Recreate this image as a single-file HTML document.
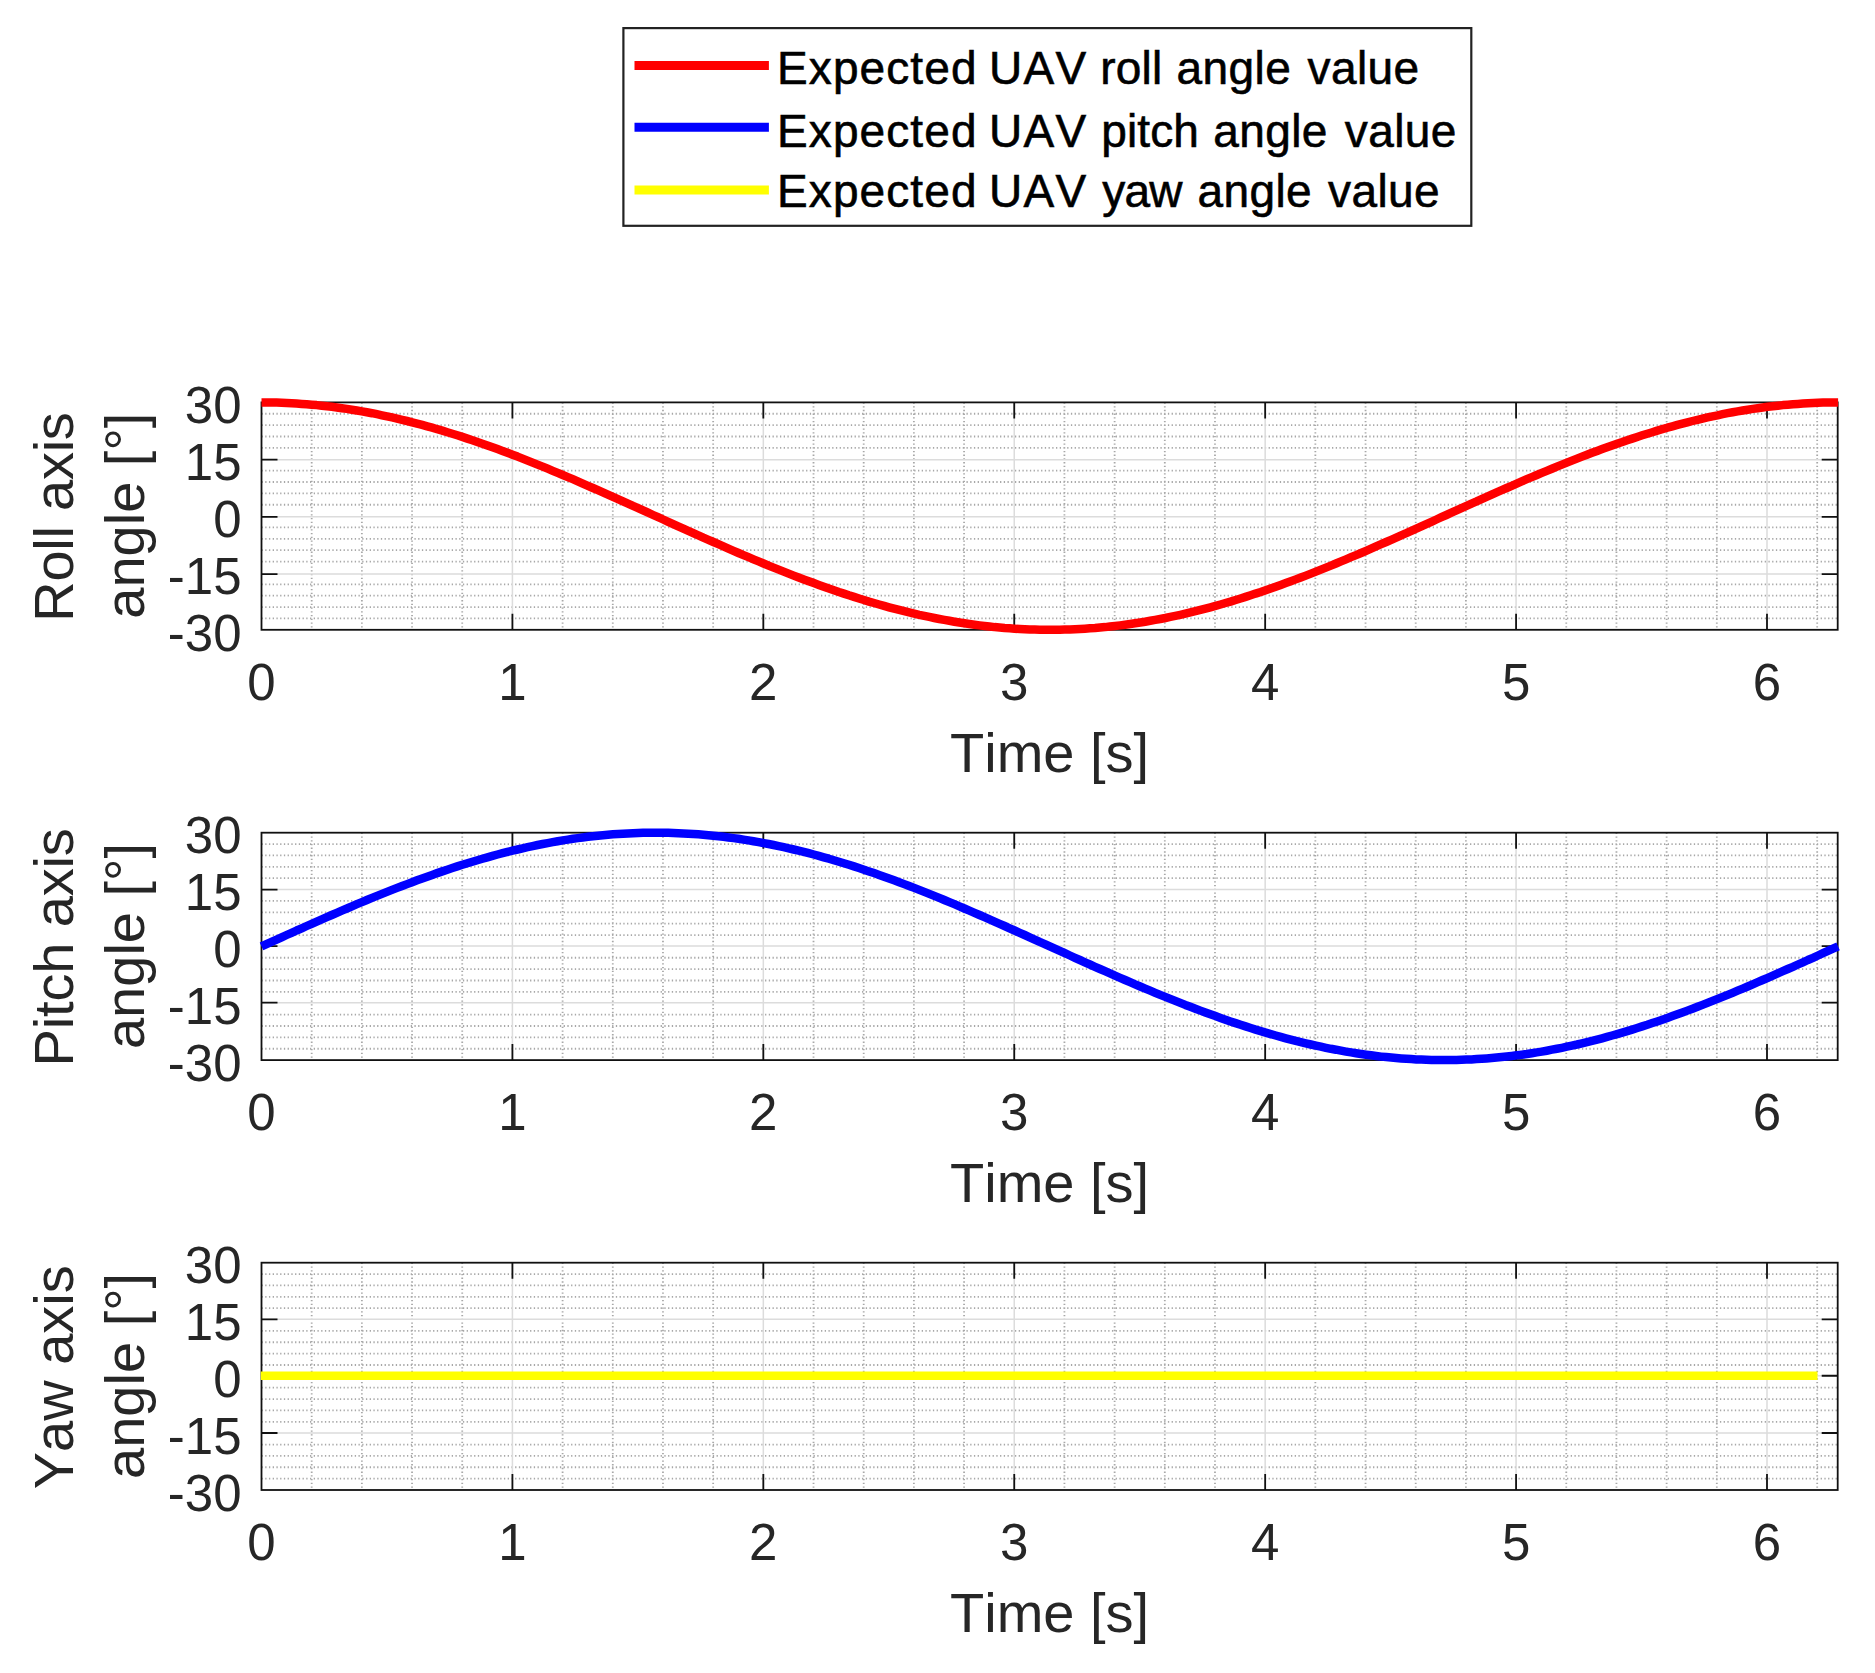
<!DOCTYPE html>
<html lang="en"><head><meta charset="utf-8"><title>Expected UAV angle values</title>
<style>html,body{margin:0;padding:0;background:#fff}body{width:1875px;height:1673px;overflow:hidden}svg{display:block}text{font-family:"Liberation Sans",sans-serif;font-kerning:none}</style>
</head><body>
<svg width="1875" height="1673" viewBox="0 0 1875 1673">
<rect width="1875" height="1673" fill="#fff"/>
<g>
<path d="M311.68 402.40V629.80M361.87 402.40V629.80M412.05 402.40V629.80M462.23 402.40V629.80M562.60 402.40V629.80M612.78 402.40V629.80M662.97 402.40V629.80M713.15 402.40V629.80M813.52 402.40V629.80M863.70 402.40V629.80M913.88 402.40V629.80M964.07 402.40V629.80M1064.43 402.40V629.80M1114.62 402.40V629.80M1164.80 402.40V629.80M1214.98 402.40V629.80M1315.35 402.40V629.80M1365.53 402.40V629.80M1415.72 402.40V629.80M1465.90 402.40V629.80M1566.27 402.40V629.80M1616.45 402.40V629.80M1666.63 402.40V629.80M1716.82 402.40V629.80M1817.18 402.40V629.80M261.50 618.43H1837.70M261.50 607.06H1837.70M261.50 595.69H1837.70M261.50 584.32H1837.70M261.50 561.58H1837.70M261.50 550.21H1837.70M261.50 538.84H1837.70M261.50 527.47H1837.70M261.50 504.73H1837.70M261.50 493.36H1837.70M261.50 481.99H1837.70M261.50 470.62H1837.70M261.50 447.88H1837.70M261.50 436.51H1837.70M261.50 425.14H1837.70M261.50 413.77H1837.70" fill="none" stroke="#a8a8a8" stroke-width="1.8" stroke-dasharray="1.3 2.43"/>
<path d="M512.42 402.40V629.80M763.33 402.40V629.80M1014.25 402.40V629.80M1265.17 402.40V629.80M1516.08 402.40V629.80M1767.00 402.40V629.80M261.50 574.10H1837.70M261.50 516.80H1837.70M261.50 459.70H1837.70" fill="none" stroke="#dcdcdc" stroke-width="1.5"/>
<path d="M512.42 402.40v16M512.42 629.80v-16M763.33 402.40v16M763.33 629.80v-16M1014.25 402.40v16M1014.25 629.80v-16M1265.17 402.40v16M1265.17 629.80v-16M1516.08 402.40v16M1516.08 629.80v-16M1767.00 402.40v16M1767.00 629.80v-16M261.50 574.10h16M1837.70 574.10h-16M261.50 516.80h16M1837.70 516.80h-16M261.50 459.70h16M1837.70 459.70h-16" fill="none" stroke="#111111" stroke-width="1.8"/>
<rect x="261.50" y="402.40" width="1576.20" height="227.40" fill="none" stroke="#111111" stroke-width="1.8"/>
<path d="M261.5 402.4L266.5 402.4L271.5 402.5L276.6 402.6L281.6 402.8L286.6 403.0L291.6 403.2L296.6 403.5L301.7 403.9L306.7 404.2L311.7 404.7L316.7 405.1L321.8 405.7L326.8 406.2L331.8 406.8L336.8 407.5L341.8 408.2L346.9 408.9L351.9 409.7L356.9 410.5L361.9 411.4L366.9 412.3L372.0 413.2L377.0 414.2L382.0 415.3L387.0 416.3L392.0 417.4L397.1 418.6L402.1 419.8L407.1 421.0L412.1 422.3L417.1 423.6L422.2 424.9L427.2 426.3L432.2 427.7L437.2 429.2L442.3 430.6L447.3 432.2L452.3 433.7L457.3 435.3L462.3 436.9L467.4 438.6L472.4 440.2L477.4 442.0L482.4 443.7L487.4 445.5L492.5 447.3L497.5 449.1L502.5 450.9L507.5 452.8L512.5 454.7L517.6 456.6L522.6 458.6L527.6 460.6L532.6 462.6L537.6 464.6L542.7 466.6L547.7 468.7L552.7 470.8L557.7 472.9L562.8 475.0L567.8 477.1L572.8 479.2L577.8 481.4L582.8 483.6L587.9 485.8L592.9 488.0L597.9 490.2L602.9 492.4L607.9 494.6L613.0 496.9L618.0 499.1L623.0 501.4L628.0 503.6L633.0 505.9L638.1 508.1L643.1 510.4L648.1 512.7L653.1 515.0L658.1 517.2L663.2 519.5L668.2 521.8L673.2 524.1L678.2 526.3L683.3 528.6L688.3 530.8L693.3 533.1L698.3 535.3L703.3 537.6L708.4 539.8L713.4 542.0L718.4 544.2L723.4 546.4L728.4 548.6L733.5 550.8L738.5 553.0L743.5 555.1L748.5 557.2L753.5 559.3L758.6 561.4L763.6 563.5L768.6 565.6L773.6 567.6L778.7 569.6L783.7 571.6L788.7 573.6L793.7 575.6L798.7 577.5L803.8 579.4L808.8 581.3L813.8 583.1L818.8 584.9L823.8 586.7L828.9 588.5L833.9 590.2L838.9 592.0L843.9 593.6L848.9 595.3L854.0 596.9L859.0 598.5L864.0 600.0L869.0 601.6L874.0 603.0L879.1 604.5L884.1 605.9L889.1 607.3L894.1 608.6L899.2 609.9L904.2 611.2L909.2 612.4L914.2 613.6L919.2 614.8L924.3 615.9L929.3 616.9L934.3 618.0L939.3 619.0L944.3 619.9L949.4 620.8L954.4 621.7L959.4 622.5L964.4 623.3L969.4 624.0L974.5 624.7L979.5 625.4L984.5 626.0L989.5 626.5L994.5 627.1L999.6 627.5L1004.6 628.0L1009.6 628.3L1014.6 628.7L1019.7 629.0L1024.7 629.2L1029.7 629.4L1034.7 629.6L1039.7 629.7L1044.8 629.8L1049.8 629.8L1054.8 629.8L1059.8 629.7L1064.8 629.6L1069.9 629.4L1074.9 629.2L1079.9 629.0L1084.9 628.7L1089.9 628.3L1095.0 628.0L1100.0 627.5L1105.0 627.1L1110.0 626.5L1115.0 626.0L1120.1 625.4L1125.1 624.7L1130.1 624.0L1135.1 623.3L1140.2 622.5L1145.2 621.7L1150.2 620.8L1155.2 619.9L1160.2 619.0L1165.3 618.0L1170.3 616.9L1175.3 615.9L1180.3 614.8L1185.3 613.6L1190.4 612.4L1195.4 611.2L1200.4 609.9L1205.4 608.6L1210.4 607.3L1215.5 605.9L1220.5 604.5L1225.5 603.0L1230.5 601.6L1235.6 600.0L1240.6 598.5L1245.6 596.9L1250.6 595.3L1255.6 593.6L1260.7 592.0L1265.7 590.2L1270.7 588.5L1275.7 586.7L1280.7 584.9L1285.8 583.1L1290.8 581.3L1295.8 579.4L1300.8 577.5L1305.8 575.6L1310.9 573.6L1315.9 571.6L1320.9 569.6L1325.9 567.6L1330.9 565.6L1336.0 563.5L1341.0 561.4L1346.0 559.3L1351.0 557.2L1356.1 555.1L1361.1 553.0L1366.1 550.8L1371.1 548.6L1376.1 546.4L1381.2 544.2L1386.2 542.0L1391.2 539.8L1396.2 537.6L1401.2 535.3L1406.3 533.1L1411.3 530.8L1416.3 528.6L1421.3 526.3L1426.3 524.1L1431.4 521.8L1436.4 519.5L1441.4 517.2L1446.4 515.0L1451.4 512.7L1456.5 510.4L1461.5 508.1L1466.5 505.9L1471.5 503.6L1476.6 501.4L1481.6 499.1L1486.6 496.9L1491.6 494.6L1496.6 492.4L1501.7 490.2L1506.7 488.0L1511.7 485.8L1516.7 483.6L1521.7 481.4L1526.8 479.2L1531.8 477.1L1536.8 475.0L1541.8 472.9L1546.8 470.8L1551.9 468.7L1556.9 466.6L1561.9 464.6L1566.9 462.6L1571.9 460.6L1577.0 458.6L1582.0 456.6L1587.0 454.7L1592.0 452.8L1597.1 450.9L1602.1 449.1L1607.1 447.3L1612.1 445.5L1617.1 443.7L1622.2 442.0L1627.2 440.2L1632.2 438.6L1637.2 436.9L1642.2 435.3L1647.3 433.7L1652.3 432.2L1657.3 430.6L1662.3 429.2L1667.3 427.7L1672.4 426.3L1677.4 424.9L1682.4 423.6L1687.4 422.3L1692.5 421.0L1697.5 419.8L1702.5 418.6L1707.5 417.4L1712.5 416.3L1717.6 415.3L1722.6 414.2L1727.6 413.2L1732.6 412.3L1737.6 411.4L1742.7 410.5L1747.7 409.7L1752.7 408.9L1757.7 408.2L1762.7 407.5L1767.8 406.8L1772.8 406.2L1777.8 405.7L1782.8 405.1L1787.8 404.7L1792.9 404.2L1797.9 403.9L1802.9 403.5L1807.9 403.2L1813.0 403.0L1818.0 402.8L1823.0 402.6L1828.0 402.5L1833.0 402.4L1838.1 402.4" fill="none" stroke="#ff0000" stroke-width="8.5" stroke-linejoin="round"/>
<text x="241.5" y="423.1" font-size="51" fill="#262626" text-anchor="end">30</text>
<text x="241.5" y="479.9" font-size="51" fill="#262626" text-anchor="end">15</text>
<text x="241.5" y="536.8" font-size="51" fill="#262626" text-anchor="end">0</text>
<text x="241.5" y="593.6" font-size="51" fill="#262626" text-anchor="end">-15</text>
<text x="241.5" y="650.5" font-size="51" fill="#262626" text-anchor="end">-30</text>
<text x="261.5" y="700.0" font-size="51" fill="#262626" text-anchor="middle">0</text>
<text x="512.4" y="700.0" font-size="51" fill="#262626" text-anchor="middle">1</text>
<text x="763.3" y="700.0" font-size="51" fill="#262626" text-anchor="middle">2</text>
<text x="1014.2" y="700.0" font-size="51" fill="#262626" text-anchor="middle">3</text>
<text x="1265.2" y="700.0" font-size="51" fill="#262626" text-anchor="middle">4</text>
<text x="1516.1" y="700.0" font-size="51" fill="#262626" text-anchor="middle">5</text>
<text x="1767.0" y="700.0" font-size="51" fill="#262626" text-anchor="middle">6</text>
<text x="1049.6" y="772.1" font-size="56" fill="#262626" text-anchor="middle">Time [s]</text>
<text transform="translate(73.3 517.1) rotate(-90)" font-size="56" fill="#262626" text-anchor="middle" letter-spacing="-0.25">Roll axis</text>
<text transform="translate(143.5 515.7) rotate(-90)" font-size="56" fill="#262626" text-anchor="middle">angle [°]</text>
</g>
<g>
<path d="M311.68 832.70V1060.10M361.87 832.70V1060.10M412.05 832.70V1060.10M462.23 832.70V1060.10M562.60 832.70V1060.10M612.78 832.70V1060.10M662.97 832.70V1060.10M713.15 832.70V1060.10M813.52 832.70V1060.10M863.70 832.70V1060.10M913.88 832.70V1060.10M964.07 832.70V1060.10M1064.43 832.70V1060.10M1114.62 832.70V1060.10M1164.80 832.70V1060.10M1214.98 832.70V1060.10M1315.35 832.70V1060.10M1365.53 832.70V1060.10M1415.72 832.70V1060.10M1465.90 832.70V1060.10M1566.27 832.70V1060.10M1616.45 832.70V1060.10M1666.63 832.70V1060.10M1716.82 832.70V1060.10M1817.18 832.70V1060.10M261.50 1048.73H1837.70M261.50 1037.36H1837.70M261.50 1025.99H1837.70M261.50 1014.62H1837.70M261.50 991.88H1837.70M261.50 980.51H1837.70M261.50 969.14H1837.70M261.50 957.77H1837.70M261.50 935.03H1837.70M261.50 923.66H1837.70M261.50 912.29H1837.70M261.50 900.92H1837.70M261.50 878.18H1837.70M261.50 866.81H1837.70M261.50 855.44H1837.70M261.50 844.07H1837.70" fill="none" stroke="#a8a8a8" stroke-width="1.8" stroke-dasharray="1.3 2.43"/>
<path d="M512.42 832.70V1060.10M763.33 832.70V1060.10M1014.25 832.70V1060.10M1265.17 832.70V1060.10M1516.08 832.70V1060.10M1767.00 832.70V1060.10M261.50 1002.70H1837.70M261.50 946.10H1837.70M261.50 889.60H1837.70" fill="none" stroke="#dcdcdc" stroke-width="1.5"/>
<path d="M512.42 832.70v16M512.42 1060.10v-16M763.33 832.70v16M763.33 1060.10v-16M1014.25 832.70v16M1014.25 1060.10v-16M1265.17 832.70v16M1265.17 1060.10v-16M1516.08 832.70v16M1516.08 1060.10v-16M1767.00 832.70v16M1767.00 1060.10v-16M261.50 1002.70h16M1837.70 1002.70h-16M261.50 946.10h16M1837.70 946.10h-16M261.50 889.60h16M1837.70 889.60h-16" fill="none" stroke="#111111" stroke-width="1.8"/>
<rect x="261.50" y="832.70" width="1576.20" height="227.40" fill="none" stroke="#111111" stroke-width="1.8"/>
<path d="M261.5 946.4L266.5 944.1L271.5 941.9L276.6 939.6L281.6 937.3L286.6 935.0L291.6 932.8L296.6 930.5L301.7 928.3L306.7 926.0L311.7 923.8L316.7 921.6L321.8 919.4L326.8 917.2L331.8 915.0L336.8 912.8L341.8 910.6L346.9 908.5L351.9 906.3L356.9 904.2L361.9 902.1L366.9 900.0L372.0 897.9L377.0 895.9L382.0 893.9L387.0 891.9L392.0 889.9L397.1 887.9L402.1 886.0L407.1 884.1L412.1 882.2L417.1 880.3L422.2 878.5L427.2 876.7L432.2 874.9L437.2 873.1L442.3 871.4L447.3 869.7L452.3 868.0L457.3 866.4L462.3 864.8L467.4 863.2L472.4 861.7L477.4 860.2L482.4 858.7L487.4 857.3L492.5 855.9L497.5 854.5L502.5 853.2L507.5 851.9L512.5 850.7L517.6 849.5L522.6 848.3L527.6 847.2L532.6 846.1L537.6 845.0L542.7 844.0L547.7 843.1L552.7 842.1L557.7 841.2L562.8 840.4L567.8 839.6L572.8 838.8L577.8 838.1L582.8 837.5L587.9 836.8L592.9 836.2L597.9 835.7L602.9 835.2L607.9 834.7L613.0 834.3L618.0 834.0L623.0 833.7L628.0 833.4L633.0 833.2L638.1 833.0L643.1 832.8L648.1 832.8L653.1 832.7L658.1 832.7L663.2 832.8L668.2 832.8L673.2 833.0L678.2 833.2L683.3 833.4L688.3 833.7L693.3 834.0L698.3 834.3L703.3 834.7L708.4 835.2L713.4 835.7L718.4 836.2L723.4 836.8L728.4 837.5L733.5 838.1L738.5 838.8L743.5 839.6L748.5 840.4L753.5 841.2L758.6 842.1L763.6 843.1L768.6 844.0L773.6 845.0L778.7 846.1L783.7 847.2L788.7 848.3L793.7 849.5L798.7 850.7L803.8 851.9L808.8 853.2L813.8 854.5L818.8 855.9L823.8 857.3L828.9 858.7L833.9 860.2L838.9 861.7L843.9 863.2L848.9 864.8L854.0 866.4L859.0 868.0L864.0 869.7L869.0 871.4L874.0 873.1L879.1 874.9L884.1 876.7L889.1 878.5L894.1 880.3L899.2 882.2L904.2 884.1L909.2 886.0L914.2 887.9L919.2 889.9L924.3 891.9L929.3 893.9L934.3 895.9L939.3 897.9L944.3 900.0L949.4 902.1L954.4 904.2L959.4 906.3L964.4 908.5L969.4 910.6L974.5 912.8L979.5 915.0L984.5 917.2L989.5 919.4L994.5 921.6L999.6 923.8L1004.6 926.0L1009.6 928.3L1014.6 930.5L1019.7 932.8L1024.7 935.0L1029.7 937.3L1034.7 939.6L1039.7 941.9L1044.8 944.1L1049.8 946.4L1054.8 948.7L1059.8 950.9L1064.8 953.2L1069.9 955.5L1074.9 957.8L1079.9 960.0L1084.9 962.3L1089.9 964.5L1095.0 966.8L1100.0 969.0L1105.0 971.2L1110.0 973.4L1115.0 975.6L1120.1 977.8L1125.1 980.0L1130.1 982.2L1135.1 984.3L1140.2 986.5L1145.2 988.6L1150.2 990.7L1155.2 992.8L1160.2 994.9L1165.3 996.9L1170.3 998.9L1175.3 1000.9L1180.3 1002.9L1185.3 1004.9L1190.4 1006.8L1195.4 1008.7L1200.4 1010.6L1205.4 1012.5L1210.4 1014.3L1215.5 1016.1L1220.5 1017.9L1225.5 1019.7L1230.5 1021.4L1235.6 1023.1L1240.6 1024.8L1245.6 1026.4L1250.6 1028.0L1255.6 1029.6L1260.7 1031.1L1265.7 1032.6L1270.7 1034.1L1275.7 1035.5L1280.7 1036.9L1285.8 1038.3L1290.8 1039.6L1295.8 1040.9L1300.8 1042.1L1305.8 1043.3L1310.9 1044.5L1315.9 1045.6L1320.9 1046.7L1325.9 1047.8L1330.9 1048.8L1336.0 1049.7L1341.0 1050.7L1346.0 1051.6L1351.0 1052.4L1356.1 1053.2L1361.1 1054.0L1366.1 1054.7L1371.1 1055.3L1376.1 1056.0L1381.2 1056.6L1386.2 1057.1L1391.2 1057.6L1396.2 1058.1L1401.2 1058.5L1406.3 1058.8L1411.3 1059.1L1416.3 1059.4L1421.3 1059.6L1426.3 1059.8L1431.4 1060.0L1436.4 1060.0L1441.4 1060.1L1446.4 1060.1L1451.4 1060.0L1456.5 1060.0L1461.5 1059.8L1466.5 1059.6L1471.5 1059.4L1476.6 1059.1L1481.6 1058.8L1486.6 1058.5L1491.6 1058.1L1496.6 1057.6L1501.7 1057.1L1506.7 1056.6L1511.7 1056.0L1516.7 1055.3L1521.7 1054.7L1526.8 1054.0L1531.8 1053.2L1536.8 1052.4L1541.8 1051.6L1546.8 1050.7L1551.9 1049.7L1556.9 1048.8L1561.9 1047.8L1566.9 1046.7L1571.9 1045.6L1577.0 1044.5L1582.0 1043.3L1587.0 1042.1L1592.0 1040.9L1597.1 1039.6L1602.1 1038.3L1607.1 1036.9L1612.1 1035.5L1617.1 1034.1L1622.2 1032.6L1627.2 1031.1L1632.2 1029.6L1637.2 1028.0L1642.2 1026.4L1647.3 1024.8L1652.3 1023.1L1657.3 1021.4L1662.3 1019.7L1667.3 1017.9L1672.4 1016.1L1677.4 1014.3L1682.4 1012.5L1687.4 1010.6L1692.5 1008.7L1697.5 1006.8L1702.5 1004.9L1707.5 1002.9L1712.5 1000.9L1717.6 998.9L1722.6 996.9L1727.6 994.9L1732.6 992.8L1737.6 990.7L1742.7 988.6L1747.7 986.5L1752.7 984.3L1757.7 982.2L1762.7 980.0L1767.8 977.8L1772.8 975.6L1777.8 973.4L1782.8 971.2L1787.8 969.0L1792.9 966.8L1797.9 964.5L1802.9 962.3L1807.9 960.0L1813.0 957.8L1818.0 955.5L1823.0 953.2L1828.0 950.9L1833.0 948.7L1838.1 946.4" fill="none" stroke="#0000ff" stroke-width="8.5" stroke-linejoin="round"/>
<text x="241.5" y="853.4" font-size="51" fill="#262626" text-anchor="end">30</text>
<text x="241.5" y="910.2" font-size="51" fill="#262626" text-anchor="end">15</text>
<text x="241.5" y="967.1" font-size="51" fill="#262626" text-anchor="end">0</text>
<text x="241.5" y="1024.0" font-size="51" fill="#262626" text-anchor="end">-15</text>
<text x="241.5" y="1080.8" font-size="51" fill="#262626" text-anchor="end">-30</text>
<text x="261.5" y="1130.3" font-size="51" fill="#262626" text-anchor="middle">0</text>
<text x="512.4" y="1130.3" font-size="51" fill="#262626" text-anchor="middle">1</text>
<text x="763.3" y="1130.3" font-size="51" fill="#262626" text-anchor="middle">2</text>
<text x="1014.2" y="1130.3" font-size="51" fill="#262626" text-anchor="middle">3</text>
<text x="1265.2" y="1130.3" font-size="51" fill="#262626" text-anchor="middle">4</text>
<text x="1516.1" y="1130.3" font-size="51" fill="#262626" text-anchor="middle">5</text>
<text x="1767.0" y="1130.3" font-size="51" fill="#262626" text-anchor="middle">6</text>
<text x="1049.6" y="1202.4" font-size="56" fill="#262626" text-anchor="middle">Time [s]</text>
<text transform="translate(73.3 947.4) rotate(-90)" font-size="56" fill="#262626" text-anchor="middle" letter-spacing="-0.15">Pitch axis</text>
<text transform="translate(143.5 946.0) rotate(-90)" font-size="56" fill="#262626" text-anchor="middle">angle [°]</text>
</g>
<g>
<path d="M311.68 1262.70V1490.00M361.87 1262.70V1490.00M412.05 1262.70V1490.00M462.23 1262.70V1490.00M562.60 1262.70V1490.00M612.78 1262.70V1490.00M662.97 1262.70V1490.00M713.15 1262.70V1490.00M813.52 1262.70V1490.00M863.70 1262.70V1490.00M913.88 1262.70V1490.00M964.07 1262.70V1490.00M1064.43 1262.70V1490.00M1114.62 1262.70V1490.00M1164.80 1262.70V1490.00M1214.98 1262.70V1490.00M1315.35 1262.70V1490.00M1365.53 1262.70V1490.00M1415.72 1262.70V1490.00M1465.90 1262.70V1490.00M1566.27 1262.70V1490.00M1616.45 1262.70V1490.00M1666.63 1262.70V1490.00M1716.82 1262.70V1490.00M1817.18 1262.70V1490.00M261.50 1478.63H1837.70M261.50 1467.27H1837.70M261.50 1455.90H1837.70M261.50 1444.54H1837.70M261.50 1421.81H1837.70M261.50 1410.44H1837.70M261.50 1399.08H1837.70M261.50 1387.72H1837.70M261.50 1364.99H1837.70M261.50 1353.62H1837.70M261.50 1342.26H1837.70M261.50 1330.89H1837.70M261.50 1308.16H1837.70M261.50 1296.80H1837.70M261.50 1285.43H1837.70M261.50 1274.07H1837.70" fill="none" stroke="#a8a8a8" stroke-width="1.8" stroke-dasharray="1.3 2.43"/>
<path d="M512.42 1262.70V1490.00M763.33 1262.70V1490.00M1014.25 1262.70V1490.00M1265.17 1262.70V1490.00M1516.08 1262.70V1490.00M1767.00 1262.70V1490.00M261.50 1433.00H1837.70M261.50 1375.75H1837.70M261.50 1319.30H1837.70" fill="none" stroke="#dcdcdc" stroke-width="1.5"/>
<path d="M512.42 1262.70v16M512.42 1490.00v-16M763.33 1262.70v16M763.33 1490.00v-16M1014.25 1262.70v16M1014.25 1490.00v-16M1265.17 1262.70v16M1265.17 1490.00v-16M1516.08 1262.70v16M1516.08 1490.00v-16M1767.00 1262.70v16M1767.00 1490.00v-16M261.50 1433.00h16M1837.70 1433.00h-16M261.50 1375.75h16M1837.70 1375.75h-16M261.50 1319.30h16M1837.70 1319.30h-16" fill="none" stroke="#111111" stroke-width="1.8"/>
<rect x="261.50" y="1262.70" width="1576.20" height="227.30" fill="none" stroke="#111111" stroke-width="1.8"/>
<path d="M260.80 1375.75H1817.48" fill="none" stroke="#ffff00" stroke-width="8.4"/>
<text x="241.5" y="1283.4" font-size="51" fill="#262626" text-anchor="end">30</text>
<text x="241.5" y="1340.2" font-size="51" fill="#262626" text-anchor="end">15</text>
<text x="241.5" y="1397.0" font-size="51" fill="#262626" text-anchor="end">0</text>
<text x="241.5" y="1453.9" font-size="51" fill="#262626" text-anchor="end">-15</text>
<text x="241.5" y="1510.7" font-size="51" fill="#262626" text-anchor="end">-30</text>
<text x="261.5" y="1560.2" font-size="51" fill="#262626" text-anchor="middle">0</text>
<text x="512.4" y="1560.2" font-size="51" fill="#262626" text-anchor="middle">1</text>
<text x="763.3" y="1560.2" font-size="51" fill="#262626" text-anchor="middle">2</text>
<text x="1014.2" y="1560.2" font-size="51" fill="#262626" text-anchor="middle">3</text>
<text x="1265.2" y="1560.2" font-size="51" fill="#262626" text-anchor="middle">4</text>
<text x="1516.1" y="1560.2" font-size="51" fill="#262626" text-anchor="middle">5</text>
<text x="1767.0" y="1560.2" font-size="51" fill="#262626" text-anchor="middle">6</text>
<text x="1049.6" y="1632.3" font-size="56" fill="#262626" text-anchor="middle">Time [s]</text>
<text transform="translate(73.3 1377.3) rotate(-90)" font-size="56" fill="#262626" text-anchor="middle" letter-spacing="0.00">Yaw axis</text>
<text transform="translate(143.5 1375.9) rotate(-90)" font-size="56" fill="#262626" text-anchor="middle">angle [°]</text>
</g>
<g>
<rect x="623.4" y="28.1" width="847.9" height="197.7" fill="#fff" stroke="#222" stroke-width="2.2"/>
<path d="M634.5 65.5H768.9" stroke="#ff0000" stroke-width="9" fill="none"/>
<text y="83.6" font-size="46" fill="#000" stroke="#000" stroke-width="0.6" style="font-kerning:none"><tspan x="777" letter-spacing="1.1">Expected</tspan> <tspan x="989" letter-spacing="1.3">UAV</tspan> <tspan x="1100.3" letter-spacing="0.2">roll</tspan> <tspan x="1176.6" letter-spacing="0.4">angle</tspan> <tspan x="1307.5" letter-spacing="0.4">value</tspan></text>
<path d="M634.5 127.3H768.9" stroke="#0000ff" stroke-width="9" fill="none"/>
<text y="146.5" font-size="46" fill="#000" stroke="#000" stroke-width="0.6" style="font-kerning:none"><tspan x="777" letter-spacing="1.1">Expected</tspan> <tspan x="989" letter-spacing="1.3">UAV</tspan> <tspan x="1101.3" letter-spacing="0.1">pitch</tspan> <tspan x="1213.2" letter-spacing="0.4">angle</tspan> <tspan x="1344.8" letter-spacing="0.4">value</tspan></text>
<path d="M634.5 190.0H768.9" stroke="#ffff00" stroke-width="9" fill="none"/>
<text y="207.3" font-size="46" fill="#000" stroke="#000" stroke-width="0.6" style="font-kerning:none"><tspan x="777" letter-spacing="1.1">Expected</tspan> <tspan x="989" letter-spacing="1.3">UAV</tspan> <tspan x="1102.2" letter-spacing="-0.8">yaw</tspan> <tspan x="1197.5" letter-spacing="0.4">angle</tspan> <tspan x="1328.0" letter-spacing="0.4">value</tspan></text>
</g>
</svg></body></html>
